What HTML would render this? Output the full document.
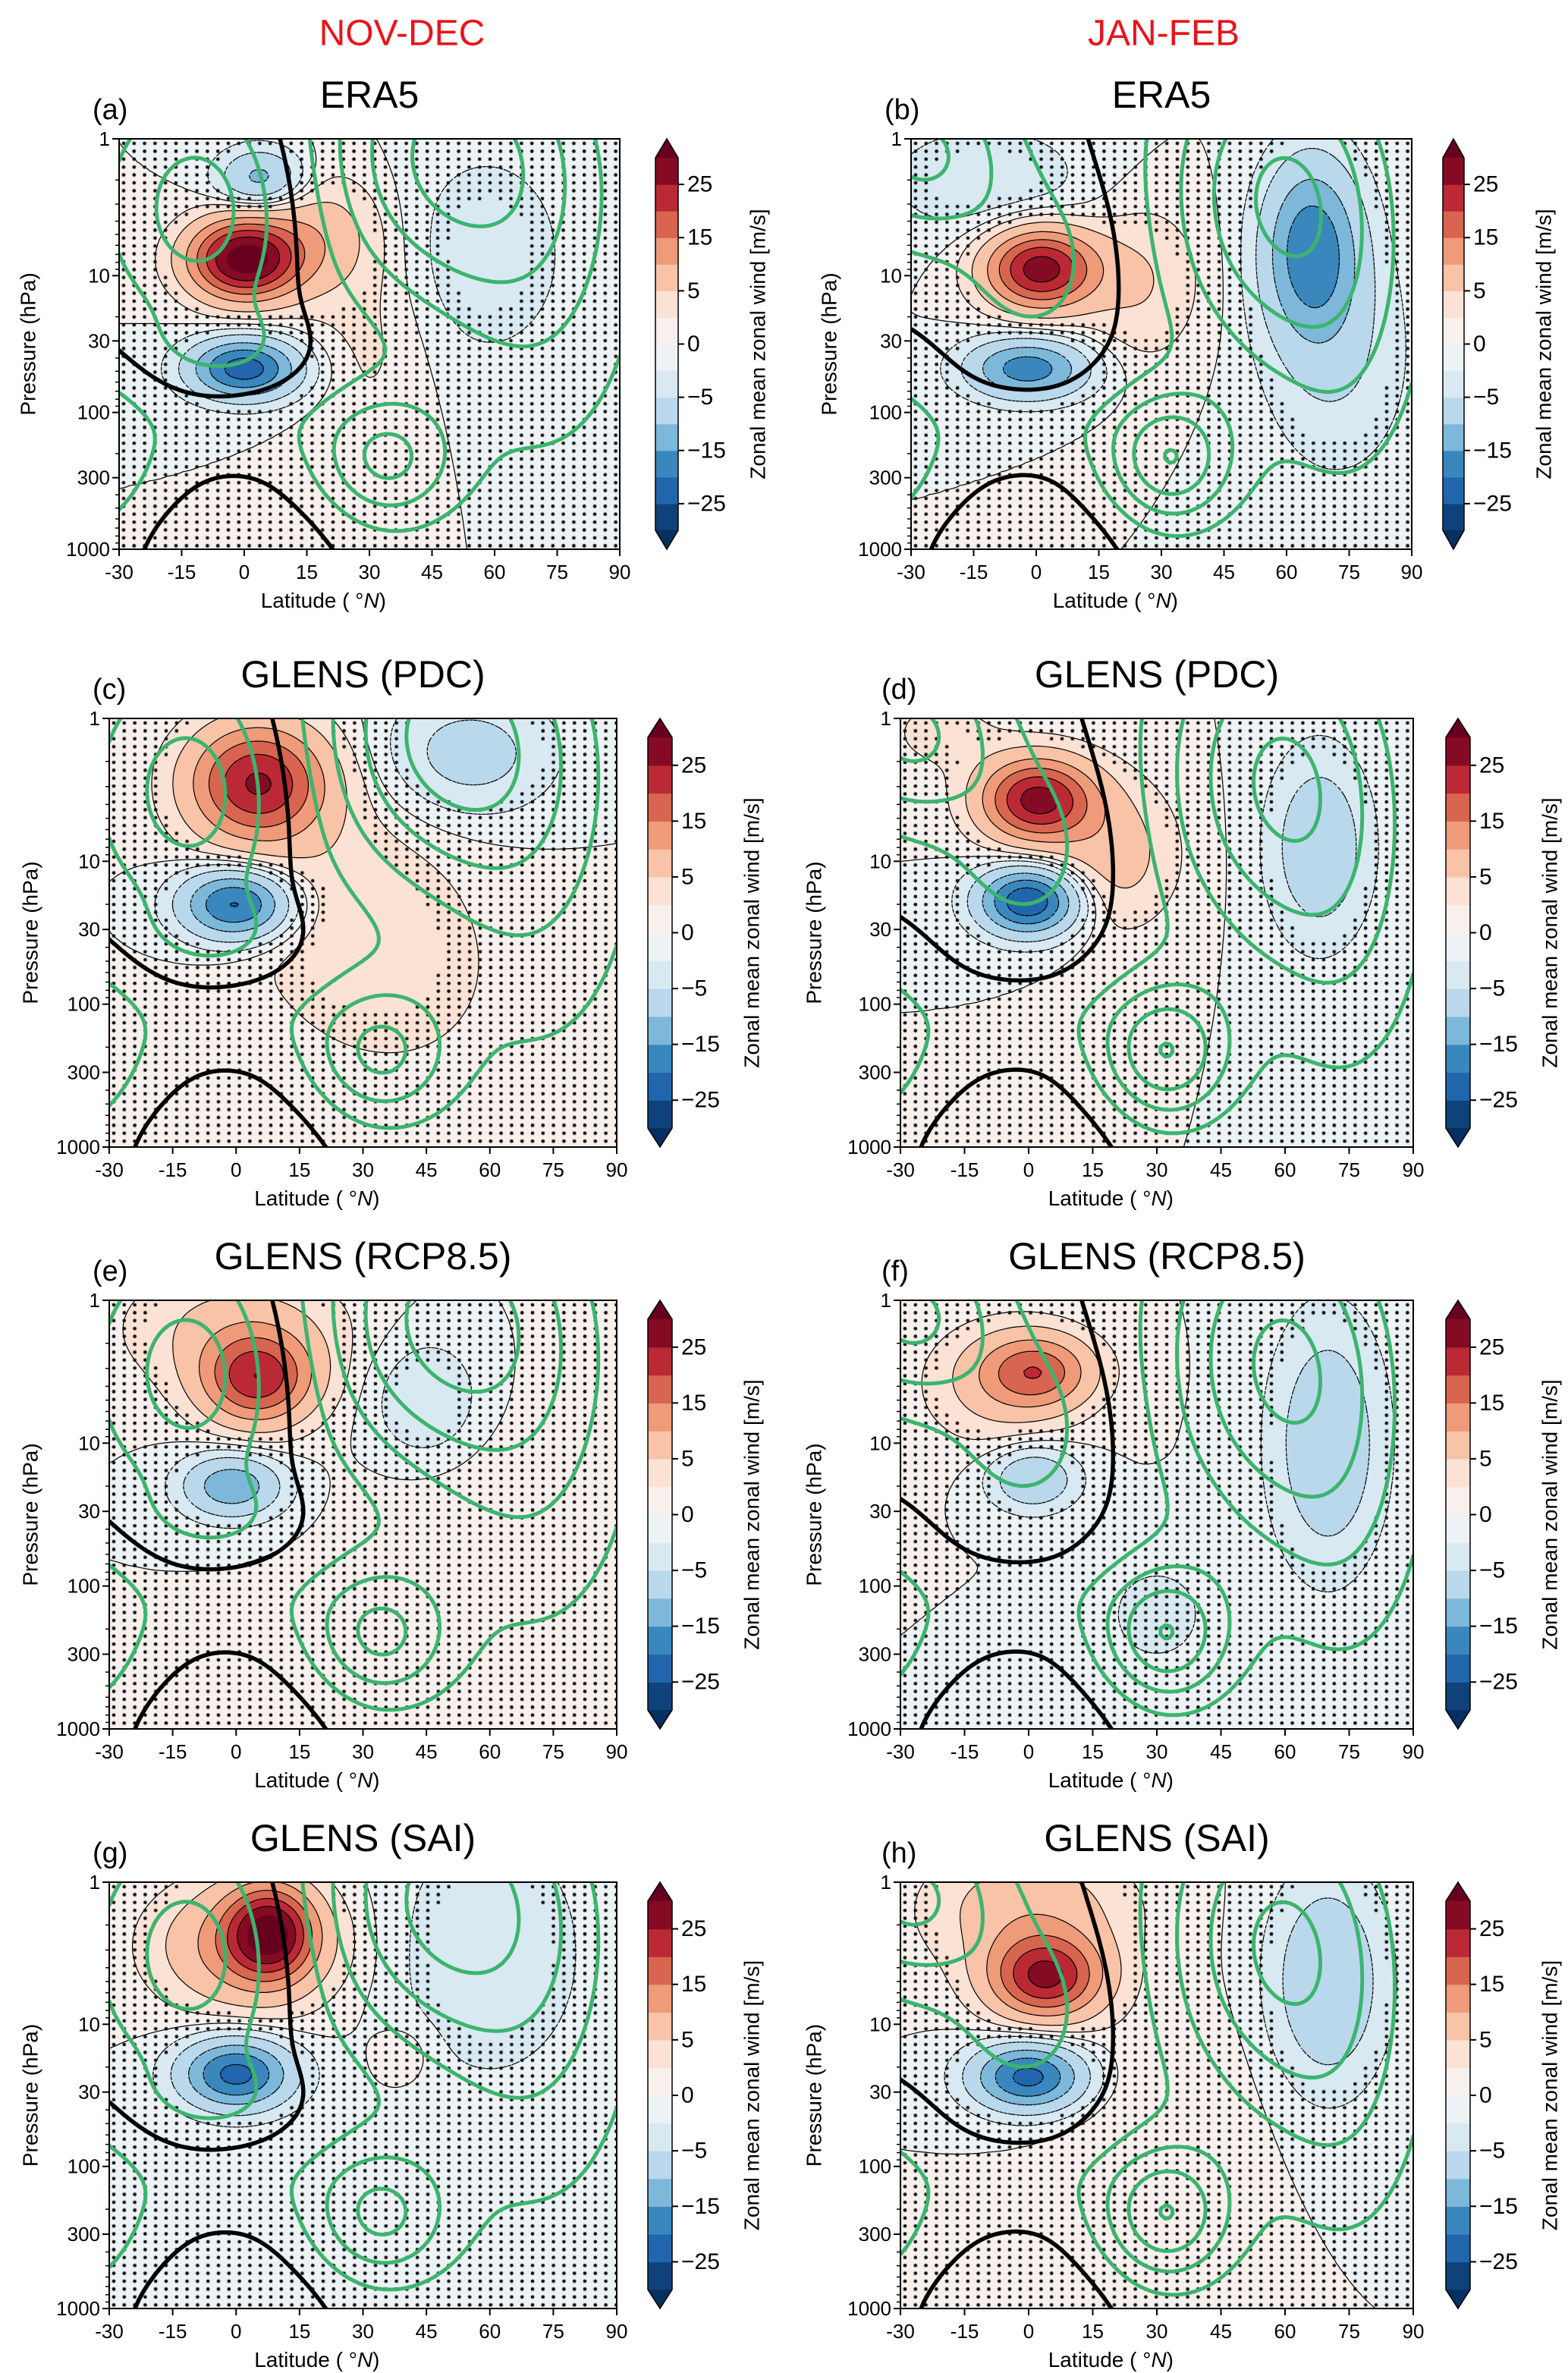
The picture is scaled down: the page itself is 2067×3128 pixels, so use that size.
<!DOCTYPE html>
<html><head><meta charset="utf-8">
<style>
html,body{margin:0;padding:0;background:#fff;}
body{width:2067px;height:3128px;position:relative;overflow:hidden;font-family:"Liberation Sans","DejaVu Sans",sans-serif;}
canvas{position:absolute;}
svg{position:absolute;left:0;top:0;}
</style></head>
<body>
<svg id="ov" width="2067" height="3128"></svg>
<script>
// ---- data: anomaly blobs [lat, log10(p), amplitude m/s, sigmaLat, sigmaLogP]
const anomA=[[0,0.88,33,9,0.2],[18,0.7,7,10,0.3],[4,0.29,-12,7,0.15],[0,1.68,-23,9,0.15],[58,0.85,-4,14,0.55],[30,1.5,2.5,10,0.5]];
const anomB=[[1,0.95,28,9,0.2],[25,1.05,5,10,0.4],[-2,1.68,-18,10,0.15],[66,0.8,-18,8,0.45],[-12,0.3,-4,18,0.3],[72,1.6,-5,12,0.6]];
const anomC=[[5,0.45,25,11,0.28],[22,1.2,3,18,0.6],[0,1.3,-22,9,0.17],[55,0.25,-7,14,0.3],[40,1.8,2.5,20,0.6]];
const anomD=[[2,0.57,27,9,0.2],[20,0.95,7,10,0.35],[0,1.28,-25,8,0.16],[68,0.9,-9,8,0.45],[-20,0.1,3,10,0.2]];
const anomE=[[5,0.55,22,9,0.22],[0,0.2,6,18,0.3],[-1,1.3,-14,8,0.15],[45,0.7,-5,9,0.3],[60,1.6,1.5,20,0.6]];
const anomF=[[2,0.5,17,9,0.18],[-8,0.6,5,12,0.3],[1,1.25,-10,7,0.15],[70,1.0,-9,9,0.6],[30,2.2,-3,10,0.3]];
const anomG=[[8,0.35,25,7,0.22],[2,0.45,12,14,0.3],[0,1.35,-22,9,0.17],[60,0.5,-5,15,0.6],[40,1.2,2,5,0.15]];
const anomH=[[4,0.67,25,9,0.2],[0,0.2,8,16,0.3],[0,1.37,-22,9,0.16],[70,0.7,-10,9,0.5],[30,1.6,2,15,0.5]];
// climatology blobs (green contours & thick zero line)
const climND=[[50,0.1,42,24,0.8],[72,1.3,14,18,1.0],[34,2.35,31,12,0.35],[-44,2.3,30,14,0.42],[-10,0.5,-26,16,0.6],[-5,1.5,-10,12,0.2],[0,2.1,5,20,0.2],[0,2.9,-7,18,0.25]];
const climJF=[[58,0.4,40,20,0.9],[75,1.6,12,14,0.9],[-28,0.1,-32,15,0.45],[32,2.35,38,11,0.35],[-44,2.3,24,14,0.42],[0,0.9,-14,14,0.5],[0,2.1,5,20,0.2],[0,2.9,-7,18,0.25]];
const LEVELS=[-30,-25,-20,-15,-10,-5,-2,0,2,5,10,15,20,25,30];
const BAND_COLORS=['#0f427a','#2166ac','#3a87be','#7db8da','#b9d8eb','#d9e9f2','#edf2f5','#f7f0ed','#fbe2d4','#f8c3a7','#ef9a79','#d8654f','#bb2a34','#850a24'];
const CB_TICKS=[25,15,5,0,-5,-15,-25];
const LAT_TICKS=[-30,-15,0,15,30,45,60,75,90];
const P_TICKS=[1,10,30,100,300,1000];
const GREEN_LEVELS=[-50,-40,-30,-20,-10,10,20,30,40,50];
const BLACK_LEVELS=[-25,-20,-15,-10,-5,-2,0,2,5,10,15,20,25];
const PANELS=[
 {id:'a',title:'ERA5',anom:anomA,clim:climND,L:157,T:183,W:660,H:541,cbX:864,cbW:30,lab:35,yl:120},
 {id:'b',title:'ERA5',anom:anomB,clim:climJF,L:1201,T:183,W:660,H:541,cbX:1902,cbW:28,lab:35,yl:108},
 {id:'c',title:'GLENS (PDC)',anom:anomC,clim:climND,L:144,T:947,W:669,H:565,cbX:854,cbW:32,lab:22,yl:104},
 {id:'d',title:'GLENS (PDC)',anom:anomD,clim:climJF,L:1187,T:947,W:676,H:565,cbX:1906,cbW:32,lab:25,yl:114},
 {id:'e',title:'GLENS (RCP8.5)',anom:anomE,clim:climND,L:144,T:1714,W:669,H:565,cbX:854,cbW:32,lab:22,yl:104},
 {id:'f',title:'GLENS (RCP8.5)',anom:anomF,clim:climJF,L:1187,T:1714,W:676,H:565,cbX:1906,cbW:32,lab:25,yl:114},
 {id:'g',title:'GLENS (SAI)',anom:anomG,clim:climND,L:144,T:2481,W:669,H:562,cbX:854,cbW:32,lab:22,yl:104},
 {id:'h',title:'GLENS (SAI)',anom:anomH,clim:climJF,L:1187,T:2481,W:676,H:562,cbX:1906,cbW:32,lab:25,yl:114}
];
const NS='http://www.w3.org/2000/svg';
const ov=document.getElementById('ov');
function field(bl,lat,s){let v=0;for(const b of bl){const dx=(lat-b[0])/b[3],dy=(s-b[1])/b[4];v+=b[2]*Math.exp(-0.5*(dx*dx+dy*dy));}return v;}
function hex(c){return [parseInt(c.substr(1,2),16),parseInt(c.substr(3,2),16),parseInt(c.substr(5,2),16)];}
const RGB=BAND_COLORS.map(hex);
function colorFor(v){if(v<LEVELS[0])return hex('#053061');if(v>=LEVELS[LEVELS.length-1])return hex('#67001f');for(let i=0;i<LEVELS.length-1;i++){if(v<LEVELS[i+1])return RGB[i];}return RGB[13];}
function mk(tag,attrs,parent){const e=document.createElementNS(NS,tag);for(const k in attrs)e.setAttribute(k,attrs[k]);(parent||ov).appendChild(e);return e;}
function txt(x,y,s,size,anchor,extra){const t=mk('text',Object.assign({x:x,y:y,'font-size':size,'text-anchor':anchor||'middle','dominant-baseline':'central','font-family':'"Liberation Sans","DejaVu Sans",sans-serif'},extra||{}));t.textContent=s;return t;}
function contourPath(bl,level,xs,ys){
 const NX=121,NY=91;const G=[];
 for(let j=0;j<NY;j++){const r=[];for(let i=0;i<NX;i++)r.push(field(bl,-30+i,j*3/(NY-1))-level);G.push(r);}
 let d='';
 for(let j=0;j<NY-1;j++)for(let i=0;i<NX-1;i++){
  const c=[[i,j,G[j][i]],[i+1,j,G[j][i+1]],[i+1,j+1,G[j+1][i+1]],[i,j+1,G[j+1][i]]];
  const pts=[];
  for(let k=0;k<4;k++){const a=c[k],b=c[(k+1)%4];if((a[2]<0)!==(b[2]<0)){const t=a[2]/(a[2]-b[2]);pts.push([a[0]+t*(b[0]-a[0]),a[1]+t*(b[1]-a[1])]);}}
  for(let k=0;k+1<pts.length;k+=2){d+='M'+xs(pts[k][0]).toFixed(1)+' '+ys(pts[k][1]).toFixed(1)+'L'+xs(pts[k+1][0]).toFixed(1)+' '+ys(pts[k+1][1]).toFixed(1);}
 }
 return d;
}
let h1=txt(530,44,'NOV-DEC',48,'middle',{fill:'#e8141c'});


let h2=txt(1534,44,'JAN-FEB',48,'middle',{fill:'#e8141c'});



for(const P of PANELS){
 const {L,T,W,H}=P;
 const xOf=lat=>L+(lat+30)/120*W, yOf=s=>T+s/3*H;
 const cv=document.createElement('canvas');cv.width=W;cv.height=H;cv.style.left=L+'px';cv.style.top=T+'px';
 
 
 document.body.insertBefore(cv,ov);
 const ctx=cv.getContext('2d');const img=ctx.createImageData(W,H);
 for(let y=0;y<H;y++){const s=y/H*3;for(let x=0;x<W;x++){const lat=-30+x/W*120;const c=colorFor(field(P.anom,lat,s));const o=(y*W+x)*4;img.data[o]=c[0];img.data[o+1]=c[1];img.data[o+2]=c[2];img.data[o+3]=255;}}
 ctx.putImageData(img,0,0);
 ctx.fillStyle='#000';
 for(let y=6;y<H;y+=10.4)for(let x=6;x<W;x+=13.8){const v=field(P.anom,-30+x/W*120,y/H*3);if(Math.abs(v)<3){ctx.beginPath();ctx.arc(x,y,2.3,0,6.2832);ctx.fill();}}
 const g=mk('g',{});
 
 
 const clip=mk('clipPath',{id:'clip'+P.id},g);mk('rect',{x:L,y:T,width:W,height:H},clip);
 const cg=mk('g',{'clip-path':'url(#clip'+P.id+')'},g);
 const gx=i=>xOf(-30+i), gy=j=>yOf(j*3/90);
 for(const lv of BLACK_LEVELS){const p=mk('path',{d:contourPath(P.anom,lv,gx,gy),stroke:'#000','stroke-width':1.2,fill:'none','stroke-dasharray':lv<0?'5 4':'none'},cg);
  
  }
 for(const lv of GREEN_LEVELS){const p=mk('path',{d:contourPath(P.clim,lv,gx,gy),stroke:'#3cb46e','stroke-width':5,fill:'none','stroke-linecap':'round','stroke-dasharray':lv<0?'16 12':'none'},cg);
  
  }
 const z=mk('path',{d:contourPath(P.clim,0,gx,gy),stroke:'#000','stroke-width':5.5,fill:'none','stroke-linecap':'round'},cg);
 
 
 const fr=mk('rect',{x:L,y:T,width:W,height:H,fill:'none',stroke:'#000','stroke-width':2},g);
 
 
 for(const t of LAT_TICKS){const x=xOf(t);mk('line',{x1:x,x2:x,y1:T+H,y2:T+H+9,stroke:'#000','stroke-width':2},g);
  const tl=txt(x,T+H+30,String(t),26);
  
  }
 for(let dec=0;dec<3;dec++)for(let m=2;m<10;m++){const y=yOf(dec+Math.log10(m));mk('line',{x1:L-5,x2:L,y1:y,y2:y,stroke:'#000','stroke-width':1.5},g);}
 for(const p of P_TICKS){const y=yOf(Math.log10(p));mk('line',{x1:L-9,x2:L,y1:y,y2:y,stroke:'#000','stroke-width':2},g);
  const tl=txt(L-12,y,String(p),26,'end');
  
  }
 const xt=txt(L+W/2+22,T+H+67,'',28,'end');
 
 
 const ts1=mk('tspan',{},xt);ts1.textContent='Latitude ( °';
 const ts2=mk('tspan',{'font-style':'italic'},xt);ts2.textContent='N';
 const ts3=mk('tspan',{},xt);ts3.textContent=')';
 const yt=txt(L-P.yl,T+H/2,'Pressure (hPa)',28,'middle',{transform:'rotate(-90 '+(L-P.yl)+' '+(T+H/2)+')'});
 
 
 const tt=txt(L+W/2,T-58,P.title,50);
 
 
 const pl=txt(L-P.lab,T-38,'('+P.id+')',38,'start');
 
 
 const cx=P.cbX,cw=P.cbW,tri=25,y0=T+tri,y1=T+H-tri,bh=(y1-y0)/14;
 const cb=mk('g',{},g);
 
 
 for(let i=0;i<14;i++){mk('rect',{x:cx,y:y1-(i+1)*bh,width:cw,height:bh+0.6,fill:BAND_COLORS[i]},cb);}
 mk('polygon',{points:cx+','+y0+' '+(cx+cw/2)+','+T+' '+(cx+cw)+','+y0,fill:'#67001f'},cb);
 mk('polygon',{points:cx+','+y1+' '+(cx+cw/2)+','+(T+H)+' '+(cx+cw)+','+y1,fill:'#053061'},cb);
 mk('polygon',{points:cx+','+y0+' '+(cx+cw/2)+','+T+' '+(cx+cw)+','+y0+' '+(cx+cw)+','+y1+' '+(cx+cw/2)+','+(T+H)+' '+cx+','+y1,fill:'none',stroke:'#000','stroke-width':1.5},cb);
 for(const t of CB_TICKS){const y=y1-LEVELS.indexOf(t)*bh;mk('line',{x1:cx+cw,x2:cx+cw+8,y1:y,y2:y,stroke:'#000','stroke-width':2},cb);
  const tl=txt(cx+cw+12,y,(t<0?'\u2212':'')+Math.abs(t),30,'start');
  
  }
 const cl=cx+cw+105;
 const ct=txt(cl,T+H/2,'Zonal mean zonal wind [m/s]',28,'middle',{transform:'rotate(-90 '+cl+' '+(T+H/2)+')'});
 
 
}
</script>
</body></html>
